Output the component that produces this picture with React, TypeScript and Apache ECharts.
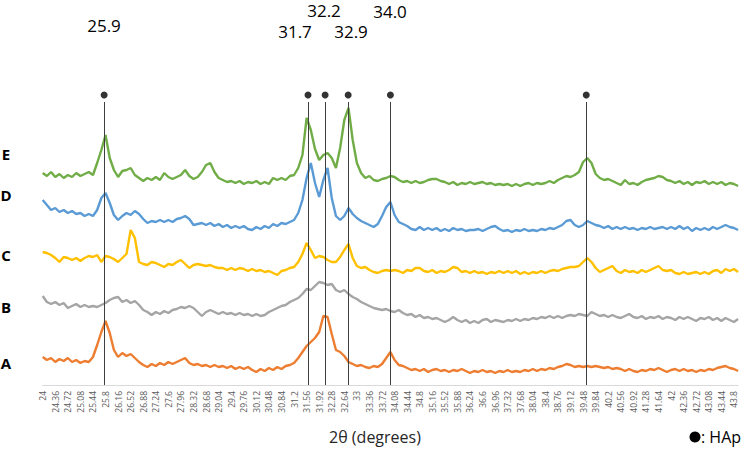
import React, { useEffect, useRef } from "react";
import * as echarts from "echarts";

// x axis: 2θ from 24°, sampled every 0.12°, labelled every 0.36°
const X_START = 24;
const X_STEP = 0.12;
const TICK_STEP = 0.36;

const seriesNames = ["A", "B", "C", "D", "E"];
const seriesColors = ["#ED7D31", "#A5A5A5", "#FFC000", "#5B9BD5", "#70AD47"];

const A = [28,25,27,23,26,24,27,23,25,22, 24,23,28,40,53,64,52,35,28,32,
  29,31,27,23,20,18,21,19,22,20, 23,21,23,25,27,22,20,21,19,20,
  18,20,18,19,17,19,16,18,16,18, 15,13,16,14,17,15,18,16,19,20,
  22,27,33,39,43,47,53,69,68,51, 35,33,29,23,21,19,20,18,17,19,
  18,21,27,33,25,20,19,17,15,16, 14,16,13,15,16,14,15,13,15,14,
  16,14,12,14,13,15,13,14,12,14, 13,15,13,14,13,15,14,16,14,16,
  15,17,16,18,19,21,20,18,19,18, 19,18,19,18,17,18,16,17,16,14,
  16,14,13,15,14,16,15,17,15,13, 15,16,14,16,14,15,13,15,14,16,
  15,17,18,19,17,16,14];

const B = [89,83,81,83,80,82,77,79,81,78, 80,78,79,78,80,82,85,87,88,83,
  85,82,84,80,75,73,70,73,71,74, 72,75,76,78,77,79,77,73,69,73,
  75,73,71,73,71,72,70,72,70,71, 69,71,69,70,73,75,77,79,80,83,
  85,87,91,96,95,99,103,102,100,101, 95,93,95,91,88,86,83,81,79,77,
  76,75,76,74,73,75,72,70,71,68, 70,67,68,66,67,65,63,65,68,65,
  63,65,62,64,62,65,66,63,65,64, 63,65,64,66,64,66,65,67,66,68,
  67,69,67,69,67,69,70,69,71,70, 69,73,71,69,70,68,70,68,67,69,
  71,68,67,69,66,68,67,69,66,68, 67,65,68,66,68,66,64,67,66,68,
  65,67,64,67,65,63,66];

const C = [133,132,130,127,123,128,127,125,127,124, 127,129,128,130,123,129,128,126,123,127,
  131,155,147,123,121,120,123,122,120,118, 121,120,123,125,121,117,120,121,120,119,
  120,118,117,117,115,117,115,117,116,114, 116,114,115,113,114,112,110,114,115,117,
  118,123,131,142,135,127,129,128,125,123, 123,128,135,141,127,119,117,118,115,113,
  112,114,115,114,115,114,112,115,114,117, 117,114,113,115,112,114,113,115,118,117,
  113,114,112,114,112,113,111,113,112,114, 112,114,112,114,111,113,111,113,112,114,
  112,114,115,114,116,117,118,118,119,123, 127,123,117,113,115,117,119,114,112,115,
  113,114,112,115,113,115,117,119,115,114, 115,112,111,113,111,112,113,111,113,111,
  114,115,112,116,114,116,113];

const D = [185,180,175,177,173,175,172,174,171,172, 169,171,169,175,187,192,182,170,165,169,
  172,170,174,171,166,162,164,163,165,163, 165,163,166,167,169,166,160,161,162,160,
  162,159,161,158,160,157,159,157,159,156, 155,158,156,159,157,161,159,162,161,163,
  165,172,185,207,222,202,188,205,217,187, 169,165,169,177,171,167,164,162,160,158,
  161,169,178,183,170,163,161,159,156,155, 158,155,157,155,157,154,156,154,157,155,
  156,154,155,155,156,154,156,158,159,156, 154,155,153,155,154,156,154,155,154,156,
  155,157,156,158,160,164,165,160,158,160, 164,162,160,159,157,159,156,158,156,158,
  156,157,155,157,156,158,156,157,158,156, 158,156,159,156,158,154,157,155,157,155,
  158,156,158,160,158,157,155];

const E = [212,209,213,208,211,207,210,208,212,209, 211,213,210,222,235,250,227,215,208,214,
  215,217,210,207,204,207,205,208,205,212, 208,206,208,210,215,209,206,208,213,220,
  222,213,207,205,203,204,202,204,201,203, 202,204,201,203,201,207,205,207,205,209,
  210,217,230,267,255,236,225,230,232,227, 217,237,265,277,245,222,212,207,209,205,
  204,206,207,209,208,205,203,204,202,204, 202,203,205,206,206,204,203,201,203,200,
  202,201,203,201,202,203,201,202,200,201, 200,201,199,201,199,201,202,200,202,201,
  202,204,202,205,207,209,208,210,213,223, 227,222,211,207,205,206,204,202,200,205,
  201,202,200,203,205,206,207,209,208,205, 204,202,204,201,203,200,203,202,204,201,
  203,201,203,200,202,201,199];

const seriesValues = [A, B, C, D, E];

// HAp reference peak positions (2θ, degrees) marked with dots and drop lines
const hapPeaks = [25.76, 31.6, 32.09, 32.75, 33.96, 39.57];
const peakLabels = ["25.9", "32.2", "34.0", "31.7", "32.9"];
const DOT_LEVEL = 290;
const LINE_TOP = 283;

const FONT = "'Open Sans', 'Noto Sans', sans-serif";

export default function App() {
  const ref = useRef<HTMLDivElement>(null);

  useEffect(() => {
    document.body.style.margin = "0";
    if (!ref.current) return;
    const chart = echarts.init(ref.current, null, { renderer: "svg" });

    const xMax = +((seriesValues[0].length - 1) * X_STEP).toFixed(2);
    const toData = (vals: number[]) =>
      vals.map((v, i) => [Math.round(i * X_STEP * 100) / 100, v]);

    const lineSeries = seriesValues.map((vals, k) => ({
      name: seriesNames[k],
      type: "line",
      data: toData(vals),
      showSymbol: false,
      symbol: "none",
      lineStyle: { color: seriesColors[k], width: 2.4 },
      itemStyle: { color: seriesColors[k] },
      z: 3,
    }));

    const hapSeries = {
      name: "HAp",
      type: "scatter",
      data: hapPeaks.map((p) => [+(p - X_START).toFixed(2), DOT_LEVEL]),
      symbol: "circle",
      symbolSize: 7,
      itemStyle: { color: "#000" },
      z: 2,
      silent: true,
      markLine: {
        silent: true,
        symbol: ["none", "none"],
        label: { show: false },
        lineStyle: { color: "#3f3f3f", width: 1, type: "solid" },
        data: hapPeaks.map((p) => [
          { coord: [+(p - X_START).toFixed(2), 0] },
          { coord: [+(p - X_START).toFixed(2), LINE_TOP] },
        ]),
      },
    };

    const letterY = [363, 307, 255, 195, 154];
    const labelPos = [
      [104, 25],
      [324, 10],
      [390, 11],
      [295, 31],
      [351, 31],
    ];

    const graphic: any[] = [];
    seriesNames.forEach((n, k) => {
      graphic.push({
        type: "text",
        x: 6,
        y: letterY[k],
        style: {
          text: n,
          font: `bold 15px ${FONT}`,
          fill: "#000",
          textAlign: "center",
          textVerticalAlign: "middle",
        },
      });
    });
    peakLabels.forEach((t, k) => {
      graphic.push({
        type: "text",
        x: labelPos[k][0],
        y: labelPos[k][1],
        style: {
          text: t,
          font: `17px ${FONT}`,
          fill: "#000",
          textAlign: "center",
          textVerticalAlign: "middle",
        },
      });
    });
    graphic.push({
      type: "text",
      x: 375,
      y: 437,
      style: {
        text: "2θ (degrees)",
        font: `16px ${FONT}`,
        fill: "#262626",
        textAlign: "center",
        textVerticalAlign: "middle",
      },
    });
    graphic.push({
      type: "circle",
      shape: { cx: 695, cy: 437, r: 5.5 },
      style: { fill: "#000" },
    });
    graphic.push({
      type: "text",
      x: 701,
      y: 437,
      style: {
        text: ": HAp",
        font: `16px ${FONT}`,
        fill: "#000",
        textAlign: "left",
        textVerticalAlign: "middle",
      },
    });

    chart.setOption({
      animation: false,
      grid: { left: 42.7, right: 12.9, top: 85, bottom: 71, containLabel: false },
      xAxis: {
        type: "value",
        min: 0,
        max: xMax,
        interval: TICK_STEP,
        splitLine: { show: false },
        axisTick: { show: false },
        axisLine: { show: true, lineStyle: { color: "#d9d9d9", width: 1 } },
        axisLabel: {
          rotate: 90,
          fontSize: 8.5,
          color: "#595959",
          fontFamily: FONT,
          margin: 6,
          showMaxLabel: false,
          formatter: (v: number) => String(Math.round((v + X_START) * 100) / 100),
        },
      },
      yAxis: {
        type: "value",
        min: 0,
        max: 300,
        show: false,
        splitLine: { show: false },
      },
      series: [hapSeries, ...lineSeries],
      graphic,
    });

    return () => chart.dispose();
  }, []);

  return <div ref={ref} style={{ width: 751, height: 456 }} />;
}
